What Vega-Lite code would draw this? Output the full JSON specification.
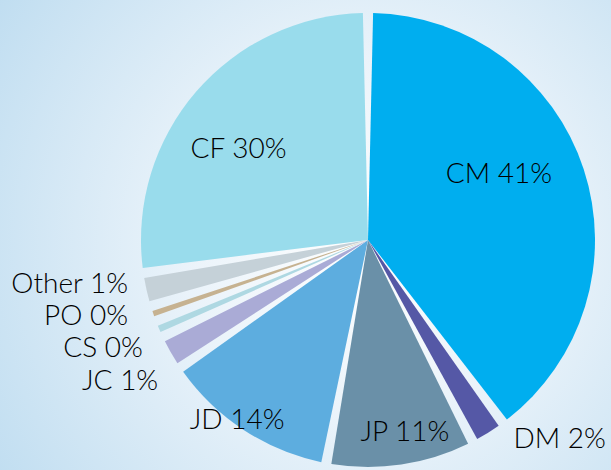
{
  "$schema": "https://vega.github.io/schema/vega-lite/v6.json",
  "width": 611,
  "height": 470,
  "padding": 0,
  "autosize": {"type": "none"},
  "background": "#C4DFF1",
  "config": {"view": {"stroke": null}},
  "data": {
    "values": [
      {"idx": 1, "cat": "CM", "share": 40.0, "label": "CM 41%"},
      {"idx": 2, "cat": "DM", "share": 2.5, "label": "DM 2%"},
      {"idx": 3, "cat": "JP", "share": 10.6, "label": "JP 11%"},
      {"idx": 4, "cat": "JD", "share": 12.6, "label": "JD 14%"},
      {"idx": 5, "cat": "JC", "share": 2.5, "label": "JC 1%"},
      {"idx": 6, "cat": "CS", "share": 1.2, "label": "CS 0%"},
      {"idx": 7, "cat": "PO", "share": 1.1, "label": "PO 0%"},
      {"idx": 8, "cat": "Other", "share": 2.4, "label": "Other 1%"},
      {"idx": 9, "cat": "CF", "share": 27.4, "label": "CF 30%"}
    ]
  },
  "encoding": {
    "theta": {"field": "share", "type": "quantitative", "stack": true},
    "order": {"field": "idx", "type": "quantitative"},
    "color": {
      "field": "cat",
      "type": "nominal",
      "legend": null,
      "scale": {
        "domain": ["CM", "DM", "JP", "JD", "JC", "CS", "PO", "Other", "CF"],
        "range": ["#00AEEF", "#5558A6", "#6A90A8", "#5DADDF", "#AAABD6", "#AED8E2", "#C6B291", "#C5D1D8", "#99DCEC"]
      }
    }
  },
  "layer": [
    {
      "mark": {
        "type": "rect",
        "fill": {
          "gradient": "radial",
          "x1": 0.6, "y1": 0.51, "r1": 0,
          "x2": 0.6, "y2": 0.51, "r2": 0.75,
          "stops": [
            {"offset": 0, "color": "#FFFFFF"},
            {"offset": 0.4, "color": "#EAF3FA"},
            {"offset": 1, "color": "#BDDCF0"}
          ]
        }
      },
      "encoding": {"theta": null, "order": null, "color": null}
    },
    {
      "mark": {"type": "arc", "outerRadius": 227, "padAngle": 0.045, "xOffset": 62.5, "yOffset": 5}
    },
    {
      "mark": {"type": "text", "font": "Lato", "fontSize": 28, "fontWeight": 300, "fill": "#000000", "align": "center", "baseline": "alphabetic", "radius": 154, "xOffset": 62.5, "yOffset": 5, "dx": -13, "dy": 18.5},
      "encoding": {"text": {"condition": {"test": "datum.cat === 'CF'", "field": "label"}, "value": ""}, "color": null}
    },
    {
      "mark": {"type": "text", "font": "Lato", "fontSize": 28, "fontWeight": 300, "fill": "#000000", "align": "center", "baseline": "alphabetic", "radius": 143, "xOffset": 62.5, "yOffset": 5, "dx": -5, "dy": -12},
      "encoding": {"text": {"condition": {"test": "datum.cat === 'CM'", "field": "label"}, "value": ""}, "color": null}
    },
    {
      "mark": {"type": "text", "font": "Lato", "fontSize": 28, "fontWeight": 300, "fill": "#000000", "align": "center", "baseline": "alphabetic", "radius": 230, "xOffset": 62.5, "yOffset": 5, "dx": -5, "dy": -3},
      "encoding": {"text": {"condition": {"test": "datum.cat === 'JD'", "field": "label"}, "value": ""}, "color": null}
    },
    {
      "mark": {"type": "text", "font": "Lato", "fontSize": 28, "fontWeight": 300, "fill": "#000000", "align": "center", "baseline": "alphabetic", "radius": 204, "xOffset": 62.5, "yOffset": 5, "dx": 7, "dy": -1},
      "encoding": {"text": {"condition": {"test": "datum.cat === 'JP'", "field": "label"}, "value": ""}, "color": null}
    },
    {
      "mark": {"type": "text", "font": "Lato", "fontSize": 28, "fontWeight": 300, "fill": "#000000", "align": "center", "baseline": "alphabetic", "radius": 283, "xOffset": 62.5, "yOffset": 5, "dx": 42, "dy": -32},
      "encoding": {"text": {"condition": {"test": "datum.cat === 'DM'", "field": "label"}, "value": ""}, "color": null}
    },
    {
      "mark": {"type": "text", "font": "Lato", "fontSize": 28, "fontWeight": 300, "fill": "#000000", "align": "right", "baseline": "alphabetic", "radius": 246, "xOffset": 62.5, "yOffset": 5, "dx": 0, "dy": -1},
      "encoding": {"text": {"condition": {"test": "datum.cat === 'Other'", "field": "label"}, "value": ""}, "color": null}
    },
    {
      "mark": {"type": "text", "font": "Lato", "fontSize": 28, "fontWeight": 300, "fill": "#000000", "align": "right", "baseline": "alphabetic", "radius": 255, "xOffset": 62.5, "yOffset": 5, "dx": 1.3, "dy": 2},
      "encoding": {"text": {"condition": {"test": "datum.cat === 'PO'", "field": "label"}, "value": ""}, "color": null}
    },
    {
      "mark": {"type": "text", "font": "Lato", "fontSize": 28, "fontWeight": 300, "fill": "#000000", "align": "right", "baseline": "alphabetic", "radius": 254, "xOffset": 62.5, "yOffset": 5, "dx": 8.5, "dy": 17.5},
      "encoding": {"text": {"condition": {"test": "datum.cat === 'CS'", "field": "label"}, "value": ""}, "color": null}
    },
    {
      "mark": {"type": "text", "font": "Lato", "fontSize": 28, "fontWeight": 300, "fill": "#000000", "align": "right", "baseline": "alphabetic", "radius": 258, "xOffset": 62.5, "yOffset": 5, "dx": 14.3, "dy": 22.4},
      "encoding": {"text": {"condition": {"test": "datum.cat === 'JC'", "field": "label"}, "value": ""}, "color": null}
    }
  ]
}
